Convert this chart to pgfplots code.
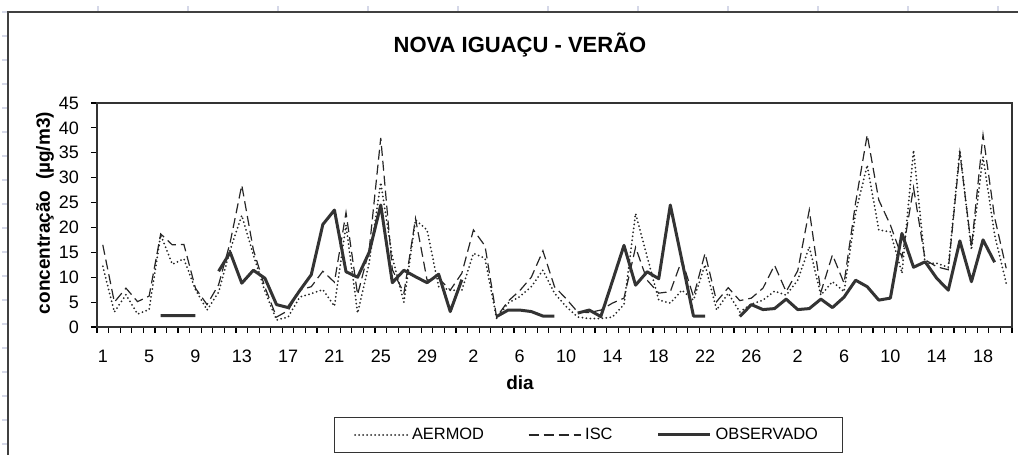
\documentclass[border=0pt]{standalone}
\usepackage{pgfplots}
\pgfplotsset{compat=1.18}
\usepackage{pgfplotstable}
\usepackage{fontspec}
\setmainfont{Liberation Sans}
\definecolor{sheet}{HTML}{D5D8E8}
\pgfplotstableread{
d isc aer obs
1 16.5 12.2 nan
2 5.0 3.0 nan
3 7.8 6.5 nan
4 5.1 2.6 nan
5 6.2 3.5 nan
6 18.7 18.5 2.3
7 16.5 12.6 2.3
8 16.6 13.7 2.3
9 7.8 7.5 2.3
10 4.5 3.4 nan
11 8.5 7.0 11.2
12 17.0 15.5 15.0
13 28.5 22.4 8.8
14 15.5 14.5 11.4
15 8.0 7.2 9.8
16 2.0 1.4 4.5
17 3.3 2.0 3.9
18 7.4 6.0 7.3
19 8.1 6.7 10.5
20 11.2 7.5 20.6
21 9.0 4.2 23.5
22 23.0 20.5 11.1
23 6.5 2.8 10.0
24 15.5 12.9 15.0
25 38.0 29.0 24.5
26 11.5 14.0 8.9
27 6.8 5.0 11.4
28 21.8 21.5 10.1
29 9.4 19.5 8.9
30 9.8 8.1 10.6
31 7.4 7.4 3.1
32 10.8 7.4 9.5
33 19.5 14.8 nan
34 16.3 13.8 nan
35 2.0 1.7 2.1
36 5.2 4.8 3.4
37 7.3 6.1 3.4
38 10.0 8.1 3.1
39 15.3 11.4 2.2
40 8.1 6.8 2.2
41 5.7 4.1 nan
42 3.0 2.0 2.8
43 2.9 1.7 3.4
44 3.4 1.7 2.1
45 4.8 2.0 9.2
46 5.8 4.5 16.4
47 16.0 22.8 8.4
48 9.4 14.1 11.1
49 6.8 5.4 9.7
50 7.1 4.8 24.5
51 13.5 7.4 13.4
52 6.1 5.4 2.2
53 14.8 12.5 2.2
54 5.1 3.4 nan
55 7.9 6.8 nan
56 5.3 3.0 2.1
57 5.8 4.6 4.5
58 7.8 5.4 3.5
59 12.4 7.2 3.7
60 7.1 6.4 5.6
61 11.3 9.4 3.5
62 23.5 16.1 3.7
63 7.0 6.4 5.6
64 14.5 9.1 3.9
65 8.8 7.1 6.0
66 25.0 23.0 9.4
67 38.6 32.5 8.1
68 25.5 19.5 5.4
69 20.5 19.1 5.8
70 14.0 10.8 18.8
71 28.0 35.5 12.0
72 13.5 12.8 13.1
73 12.1 12.8 9.8
74 11.5 12.0 7.4
75 35.0 35.5 17.3
76 16.0 15.5 9.1
77 38.6 34.2 17.5
78 22.0 18.5 13.0
79 11.8 8.8 nan
}\data
\begin{document}
\begin{tikzpicture}[x=1pt,y=1pt]
\useasboundingbox (0,0) rectangle (509,227.5);
\foreach \k in {0,...,18} \draw[sheet,line width=0.6pt] (1,{(443-24*\k)/2}) -- (3.5,{(443-24*\k)/2});
\foreach \k in {0,...,10} \draw[sheet,line width=0.6pt] ({(98+90*\k)/2},221.5) -- ({(98+90*\k)/2},224.5);
\draw[black!75,line width=0.8pt] (4,0) -- (4,221.5) -- (509,221.5);
\node[font=\fontsize{11}{13}\selectfont\bfseries] at (260,205) {NOVA IGUAÇU - VERÃO};
\node[font=\fontsize{9.5}{11}\selectfont\bfseries] at (260,36) {dia};
\node[font=\fontsize{9.5}{11}\selectfont\bfseries,rotate=90] at (22.5,121) {concentração~~(µg/m3)};
\begin{axis}[
  at={(48.5pt,64pt)}, anchor=south west, scale only axis,
  width=457.5pt, height=112pt,
  xmin=0.5, xmax=79.5, ymin=0, ymax=45,
  xtick={1,5,...,77},
  xticklabels={1,5,9,13,17,21,25,29,2,6,10,14,18,22,26,2,6,10,14,18},
  minor xtick={0.5,1.5,...,79.5},
  ytick={0,5,...,45},
  xtick pos=left, ytick pos=left,
  tick align=outside,
  major x tick style={draw=none},
  minor tick length=3pt, major tick length=3pt,
  tick style={black, line width=0.6pt},
  axis line style={black!80, line width=0.8pt},
  ticklabel style={font=\fontsize{9}{10}\selectfont},
  xticklabel style={yshift=-5pt},
  yticklabel style={xshift=-2.5pt},
  /pgf/number format/assume math mode=true,
  unbounded coords=jump,
  legend columns=3,
  legend image code/.code={\draw[#1] (0pt,0pt) -- (26pt,0pt);},
  legend style={at={(0.5366,-0.482)}, anchor=center, draw=black!80,
    font=\fontsize{8.2}{9}\selectfont, inner xsep=10pt, inner ysep=3pt,
    /tikz/every even column/.append style={column sep=20pt}},
]
\addplot[black!85, line width=1pt, line cap=round, dash pattern=on 0pt off 2pt] table[x=d,y=aer] {\data};
\addlegendentry{AERMOD}
\addplot[black!85, line width=0.6pt, dash pattern=on 5pt off 2.5pt] table[x=d,y=isc] {\data};
\addlegendentry{ISC}
\addplot[black!80, line width=1.5pt, line join=round] table[x=d,y=obs] {\data};
\addlegendentry{OBSERVADO}
\end{axis}
\end{tikzpicture}
\end{document}
